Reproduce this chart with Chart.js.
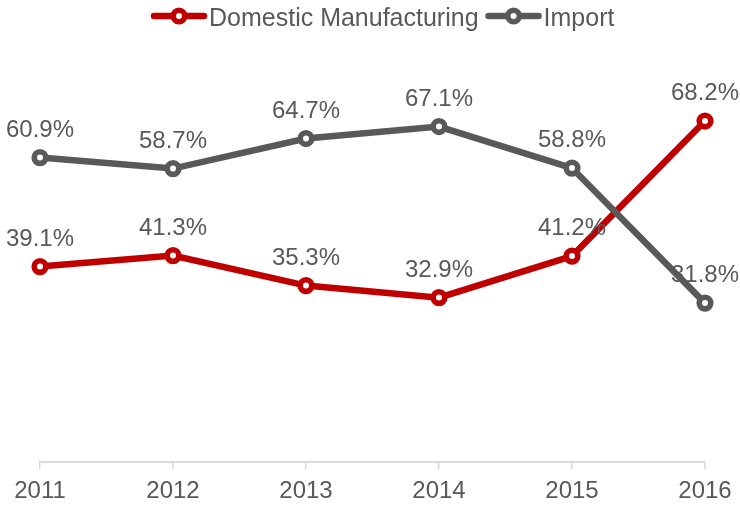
<!DOCTYPE html>
<html>
<head>
<meta charset="utf-8">
<script src="https://cdn.jsdelivr.net/npm/chart.js@4.4.1/dist/chart.umd.min.js"></script>
<style>
html, body { margin: 0; padding: 0; background: #fff; }
#wrap { width: 740px; height: 505px; }
</style>
</head>
<body>
<div id="wrap"><canvas id="myChart"></canvas></div>
<script>
const years = ['2011', '2012', '2013', '2014', '2015', '2016'];
const domestic = [39.1, 41.3, 35.3, 32.9, 41.2, 68.2];
const imports = [60.9, 58.7, 64.7, 67.1, 58.8, 31.8];
const seriesNames = ['Domestic Manufacturing', 'Import'];

const red = '#c00000';
const grey = '#595959';
const textColor = '#595959';
const fontFamily = '"Liberation Sans", Arial, sans-serif';

// percent labels above every point
const valueLabels = {
	id: 'valueLabels',
	afterDatasetsDraw(chart) {
		const ctx = chart.ctx;
		ctx.save();
		ctx.font = '24px ' + fontFamily;
		ctx.fillStyle = textColor;
		ctx.textAlign = 'center';
		ctx.textBaseline = 'alphabetic';
		chart.data.datasets.forEach((ds, i) => {
			chart.getDatasetMeta(i).data.forEach((pt, j) => {
				ctx.fillText(ds.data[j].toFixed(1) + '%', pt.x, pt.y - 21);
			});
		});
		ctx.restore();
	}
};

// legend with line + marker swatches
const lineLegend = {
	id: 'lineLegend',
	afterDraw(chart) {
		const ctx = chart.ctx;
		ctx.save();
		ctx.font = '25px ' + fontFamily;
		ctx.textBaseline = 'alphabetic';
		ctx.textAlign = 'left';
		let x = 152;
		const y = 16;
		chart.data.datasets.forEach((ds) => {
			ctx.strokeStyle = ds.borderColor;
			ctx.lineWidth = 6.5;
			ctx.lineCap = 'round';
			ctx.beginPath();
			ctx.moveTo(x + 2, y);
			ctx.lineTo(x + 52, y);
			ctx.stroke();
			ctx.beginPath();
			ctx.lineWidth = 5.6;
			ctx.arc(x + 27, y, 5.8, 0, Math.PI * 2);
			ctx.fillStyle = '#fff';
			ctx.fill();
			ctx.stroke();
			ctx.fillStyle = textColor;
			ctx.fillText(ds.label, x + 57, 26);
			x += 57 + ctx.measureText(ds.label).width + 8;
		});
		ctx.restore();
	}
};

new Chart(document.getElementById('myChart').getContext('2d'), {
	type: 'line',
	data: {
		labels: years,
		datasets: [{
			label: seriesNames[0],
			data: domestic,
			borderColor: red,
			backgroundColor: red,
			borderWidth: 6.5,
			pointRadius: 5.8,
			pointBorderWidth: 5.6,
			pointBackgroundColor: '#fff',
			pointBorderColor: red,
			tension: 0,
			order: 1
		}, {
			label: seriesNames[1],
			data: imports,
			borderColor: grey,
			backgroundColor: grey,
			borderWidth: 6.5,
			pointRadius: 5.8,
			pointBorderWidth: 5.6,
			pointBackgroundColor: '#fff',
			pointBorderColor: grey,
			tension: 0,
			order: 0
		}]
	},
	options: {
		responsive: true,
		maintainAspectRatio: false,
		animation: false,
		layout: {
			padding: {top: 62, left: 40, right: 35, bottom: -8}
		},
		plugins: {
			legend: {display: false},
			tooltip: {enabled: false}
		},
		scales: {
			x: {
				offset: false,
				grid: {
					drawOnChartArea: false,
					drawTicks: true,
					tickLength: 7,
					color: '#d9d9d9',
					lineWidth: 1.5
				},
				border: {display: true, color: '#d9d9d9', width: 2},
				ticks: {
					color: textColor,
					font: {family: fontFamily, size: 24},
					padding: 7.5,
					maxRotation: 0,
					autoSkip: false
				}
			},
			y: {
				display: false,
				min: 0,
				max: 80
			}
		}
	},
	plugins: [valueLabels, lineLegend]
});
</script>
</body>
</html>
